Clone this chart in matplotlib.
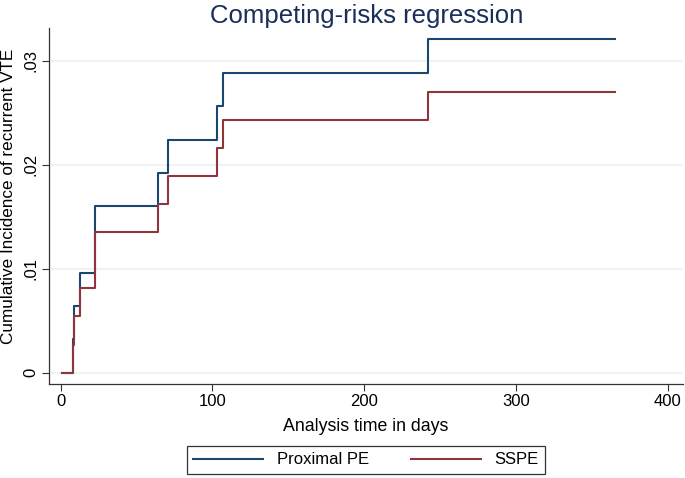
import matplotlib
matplotlib.use('Agg')
import matplotlib.pyplot as plt

plt.rcParams['font.family'] = ['Liberation Sans', 'DejaVu Sans']

# step times (days) and cumulative incidence for each group
times = [1, 8, 9, 13, 23, 64, 71, 103, 107, 242, 365]
proximal_pe = [0, 0.0032, 0.0064, 0.0096, 0.0160, 0.0192, 0.0224, 0.0256, 0.0288, 0.0321, 0.0321]
sspe = [0, 0.0027, 0.0054, 0.0081, 0.0135, 0.0162, 0.0189, 0.0216, 0.0243, 0.0270, 0.0270]

x_ticks = [0, 100, 200, 300, 400]
y_ticks = [0, 0.01, 0.02, 0.03]
y_tick_labels = ['0', '.01', '.02', '.03']

navy = '#1a476f'
maroon = '#90353b'
grid_col = '#eaf2f3'

fig = plt.figure(figsize=(6.85, 4.78), dpi=100)
ax = fig.add_axes([0.0715, 0.1967, 0.9255, 0.7448])

ax.plot(times, proximal_pe, drawstyle='steps-post', color=navy, lw=1.5, label='Proximal PE')
ax.plot(times, sspe, drawstyle='steps-post', color=maroon, lw=1.5, label='SSPE')

ax.set_xlim(-7.6, 410)
ax.set_ylim(-0.00109, 0.03314)
ax.set_xticks(x_ticks)
ax.set_yticks(y_ticks)
ax.set_yticklabels(y_tick_labels, rotation=90, va='center')
ax.tick_params(axis='both', labelsize=12, direction='out', length=5, width=0.8,
               color='#333333', pad=2.5)
ax.grid(axis='y', color=grid_col, lw=1.2)
ax.set_axisbelow(True)

for s in ['top', 'right']:
    ax.spines[s].set_visible(False)
for s in ['left', 'bottom']:
    ax.spines[s].set_color('#333333')
    ax.spines[s].set_linewidth(0.9)

ax.set_xlabel('Analysis time in days', fontsize=12.8, labelpad=6)
ax.set_ylabel('Cumulative Incidence of recurrent VTE', fontsize=12.3)
ax.yaxis.set_label_coords(-0.052, 0.528)
fig.text(0.536, 0.966, 'Competing-risks regression', fontsize=18.5, color='#1a2e5a',
         ha='center', va='center')

leg = fig.legend(loc='center', bbox_to_anchor=(0.534, 0.0377), ncol=2, fontsize=12,
                 frameon=True, fancybox=False, edgecolor='black', handlelength=4.2,
                 columnspacing=2.5, borderpad=0.4, handletextpad=0.8)
leg.get_frame().set_linewidth(0.9)

fig.savefig('out.png', dpi=100)
